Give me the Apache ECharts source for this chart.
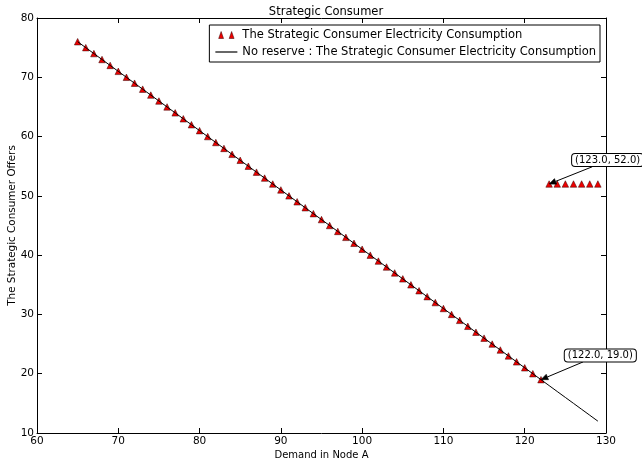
<!DOCTYPE html>
<html>
<head>
<meta charset="utf-8">
<script src="https://cdn.jsdelivr.net/npm/echarts@6/dist/echarts.min.js"></script>
<style>html,body{margin:0;padding:0;background:#fff}#c{width:642px;height:461px}</style>
</head>
<body>
<div id="c"></div>
<script>
// ---- data ----
var consumerX = [65,66,67,68,69,70,71,72,73,74,75,76,77,78,79,80,81,82,83,84,85,86,87,88,89,90,91,92,93,94,95,96,97,98,99,100,101,102,103,104,105,106,107,108,109,110,111,112,113,114,115,116,117,118,119,120,121,122,123,124,125,126,127,128,129];
var consumerY = [76,75,74,73,72,71,70,69,68,67,66,65,64,63,62,61,60,59,58,57,56,55,54,53,52,51,50,49,48,47,46,45,44,43,42,41,40,39,38,37,36,35,34,33,32,31,30,29,28,27,26,25,24,23,22,21,20,19,52,52,52,52,52,52,52];
var noReserveX = [65,66,67,68,69,70,71,72,73,74,75,76,77,78,79,80,81,82,83,84,85,86,87,88,89,90,91,92,93,94,95,96,97,98,99,100,101,102,103,104,105,106,107,108,109,110,111,112,113,114,115,116,117,118,119,120,121,122,123,124,125,126,127,128,129];
var noReserveY = [76,75,74,73,72,71,70,69,68,67,66,65,64,63,62,61,60,59,58,57,56,55,54,53,52,51,50,49,48,47,46,45,44,43,42,41,40,39,38,37,36,35,34,33,32,31,30,29,28,27,26,25,24,23,22,21,20,19,18,17,16,15,14,13,12];
var seriesNames = ['The Strategic Consumer Electricity Consumption', 'No reserve : The Strategic Consumer Electricity Consumption'];
var annotPoints = [[123.0, 52.0], [122.0, 19.0]];
var annotTextAt = [[130.2, 56.05], [129.3, 23.07]];
var annotArrowFrom = [[128.3, 54.9], [127.17, 21.98]];

function zip(a, b) { return a.map(function (v, i) { return [v, b[i]]; }); }

var chart = echarts.init(document.getElementById('c'), null, {renderer: 'canvas'});
var font = 'DejaVu Sans';
var axisCommon = {
  type: 'value', splitLine: {show: false},
  axisLine: {show: true, onZero: false, lineStyle: {color: '#000', width: 1}},
  axisTick: {show: true, inside: true, length: 5, lineStyle: {color: '#000'}}
};
function ax(extra) { return Object.assign({}, axisCommon, extra); }

var option = {
  animation: false,
  backgroundColor: '#fff',
  textStyle: {fontFamily: font},
  title: {text: 'Strategic Consumer', left: 321, textAlign: 'center', top: 1,
    textStyle: {fontFamily: font, fontSize: 11.5, fontWeight: 'normal', color: '#000'}},
  grid: {left: 37, right: 36, top: 18, bottom: 28, containLabel: false, outerBoundsMode: 'none'},
  legend: {
    orient: 'vertical', right: 42, top: 25, itemGap: 5, itemWidth: 22, itemHeight: 7,
    backgroundColor: '#fff', borderColor: '#000', borderWidth: 1, padding: [4, 4, 4, 6],
    textStyle: {fontFamily: font, fontSize: 11.5, color: '#000'},
    data: [
      {name: seriesNames[0], icon: 'path://M0,10 L3.5,0 L7,10 Z M15,10 L18.5,0 L22,10 Z',
        itemStyle: {color: '#ee0000', borderColor: '#300000', borderWidth: 0.5}},
      {name: seriesNames[1], icon: 'path://M0,4.4 L22,4.4 L22,5.6 L0,5.6 Z',
        itemStyle: {color: '#000', borderWidth: 0}}
    ]
  },
  xAxis: [
    ax({min: 60, max: 130, interval: 10, position: 'bottom',
      name: 'Demand in Node A', nameLocation: 'middle', nameGap: 17, nameMoveOverlap: false,
      nameTextStyle: {fontFamily: font, fontSize: 10, color: '#000'},
      axisLabel: {fontFamily: font, fontSize: 10.5, color: '#000', margin: 3}}),
    ax({min: 60, max: 130, interval: 10, position: 'top', axisLabel: {show: false}})
  ],
  yAxis: [
    ax({min: 10, max: 80, interval: 10, position: 'left',
      name: 'The Strategic Consumer Offers', nameLocation: 'middle', nameGap: 20, nameMoveOverlap: false,
      nameTextStyle: {fontFamily: font, fontSize: 10.4, color: '#000'},
      axisLabel: {fontFamily: font, fontSize: 10.5, color: '#000', margin: 3}}),
    ax({min: 10, max: 80, interval: 10, position: 'right', axisLabel: {show: false}})
  ],
  series: [
    {name: seriesNames[0], type: 'scatter', symbol: 'triangle', symbolSize: 6.5,
      itemStyle: {color: '#ee0000', borderColor: '#300000', borderWidth: 0.5, opacity: 1},
      data: zip(consumerX, consumerY), z: 2},
    {name: seriesNames[1], type: 'line', showSymbol: false, symbol: 'none',
      lineStyle: {color: '#000', width: 1}, itemStyle: {color: '#000'},
      data: zip(noReserveX, noReserveY), z: 3}
  ]
};
chart.setOption(option);

function drawAnnotations() {
  var els = [];
  annotPoints.forEach(function (p, i) {
    var tip = chart.convertToPixel({gridIndex: 0}, p);
    var from = chart.convertToPixel({gridIndex: 0}, annotArrowFrom[i]);
    var txt = chart.convertToPixel({gridIndex: 0}, annotTextAt[i]);
    var dx = tip[0] - from[0], dy = tip[1] - from[1];
    var len = Math.sqrt(dx * dx + dy * dy), ux = dx / len, uy = dy / len;
    var hl = 7, hw = 3;
    var bx = tip[0] - ux * hl, by = tip[1] - uy * hl;
    els.push({type: 'line', z: 100, shape: {x1: from[0], y1: from[1], x2: bx, y2: by},
      style: {stroke: '#000', lineWidth: 1}});
    els.push({type: 'polygon', z: 100, shape: {points: [tip, [bx - uy * hw, by + ux * hw], [bx + uy * hw, by - ux * hw]]},
      style: {fill: '#000', stroke: '#000', lineWidth: 0.5}});
    els.push({type: 'text', z: 101, x: txt[0], y: txt[1],
      style: {text: '(' + p[0].toFixed(1) + ', ' + p[1].toFixed(1) + ')',
        font: '10px "DejaVu Sans"', fill: '#000', align: 'center', verticalAlign: 'middle',
        backgroundColor: '#fff', borderColor: '#000', borderWidth: 1, borderRadius: 3,
        padding: [1, 3, 1, 3]}});
  });
  chart.setOption({graphic: {elements: els}});
}
drawAnnotations();
</script>
</body>
</html>
